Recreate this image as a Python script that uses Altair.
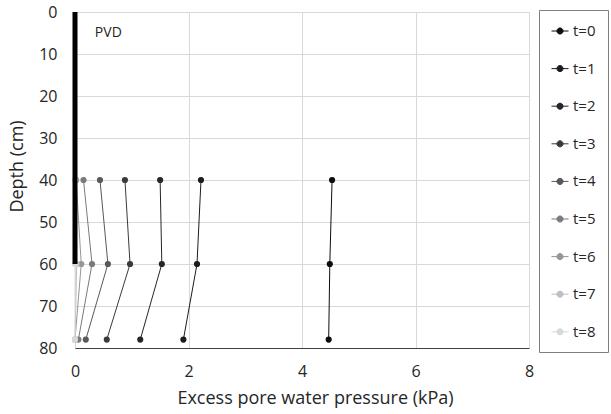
import altair as alt
import pandas as pd

series = ["t=0", "t=1", "t=2", "t=3", "t=4", "t=5", "t=6", "t=7", "t=8"]
depths = [40, 60, 78]
t0 = [4.53, 4.49, 4.47]
t1 = [2.22, 2.15, 1.91]
t2 = [1.50, 1.53, 1.15]
t3 = [0.88, 0.97, 0.56]
t4 = [0.44, 0.58, 0.19]
t5 = [0.15, 0.30, 0.06]
t6 = [0.02, 0.11, 0.00]
t7 = [0.00, 0.03, 0.00]
t8 = [0.00, 0.00, 0.00]
values = [t0, t1, t2, t3, t4, t5, t6, t7, t8]
colors = ["#0d0d0d", "#1c1c1c", "#262626", "#3a3a3a", "#595959",
          "#7a7a7a", "#969696", "#bfbfbf", "#d9d9d9"]

x_ticks = [0, 2, 4, 6, 8]
y_ticks = [0, 10, 20, 30, 40, 50, 60, 70, 80]

pvd_x = [0]
pvd_top = [0]
pvd_bottom = [60]

rows = []
for name, vals in zip(series, values):
    for d, v in zip(depths, vals):
        rows.append({"series": name, "depth": d, "u": v})
df = pd.DataFrame(rows)
pvd = pd.DataFrame({"x": pvd_x, "top": pvd_top, "bottom": pvd_bottom})

FONT = "Open Sans"
TXT = "#262626"
xscale = alt.Scale(domain=[0, 8], nice=False, zero=False)
yscale = alt.Scale(domain=[0, 80], reverse=True, nice=False, zero=False)
cscale = alt.Scale(domain=series, range=colors)

legend = alt.Legend(
    title=None,
    orient="none",
    legendX=464,
    legendY=-2,
    symbolType="M-1,0H1M-0.36,0A0.36,0.36,0,1,0,0.36,0A0.36,0.36,0,1,0,-0.36,0Z",
    symbolSize=289,
    symbolStrokeWidth=1,
    symbolOpacity=1,
    labelFont=FONT,
    labelFontSize=15,
    labelColor=TXT,
    labelOffset=4,
    rowPadding=20.6,
    padding=12,
    strokeColor="#7f7f7f",
    fillColor="white",
)

xaxis = alt.Axis(values=x_ticks, format="d", title="Excess pore water pressure (kPa)",
                 grid=True, ticks=False, labelPadding=15, labelFontSize=16,
                 labelFlush=False, titleFontSize=18, titlePadding=10, titleX=240,
                 labelFont=FONT, titleFont=FONT,
                 labelColor=TXT, titleColor=TXT, titleFontWeight="normal",
                 domainColor="#404040", gridColor="#d9d9d9")
yaxis = alt.Axis(values=y_ticks, title="Depth (cm)", grid=True, ticks=False,
                 labelPadding=18, labelFontSize=16, labelFlush=False,
                 titleFontSize=18, titlePadding=12, titleY=154,
                 labelFont=FONT, titleFont=FONT, labelColor=TXT,
                 titleColor=TXT, titleFontWeight="normal",
                 domain=False, gridColor="#d9d9d9")

base = alt.Chart(df)

lines = base.mark_line(strokeWidth=1).encode(
    x=alt.X("u:Q", scale=xscale, axis=xaxis),
    y=alt.Y("depth:Q", scale=yscale, axis=yaxis),
    stroke=alt.Stroke("series:N", scale=cscale, legend=legend),
    order=alt.Order("depth:Q"),
)

points = base.mark_point(filled=True, size=38, opacity=1, strokeWidth=0).encode(
    x=alt.X("u:Q", scale=xscale),
    y=alt.Y("depth:Q", scale=yscale),
    fill=alt.Fill("series:N", scale=cscale, legend=legend),
    stroke=alt.Stroke("series:N", scale=cscale, legend=legend),
)

pvd_rule = alt.Chart(pvd).mark_rule(color="black", strokeWidth=5).encode(
    x=alt.X("x:Q", scale=xscale),
    y=alt.Y("top:Q", scale=yscale),
    y2="bottom:Q",
)

label = alt.Chart(pvd).mark_text(text="PVD", align="left", baseline="middle",
                                 font=FONT, fontSize=14, color=TXT).encode(
    x=alt.datum(0.35),
    y=alt.datum(5),
)

chart = alt.layer(lines, points, pvd_rule, label).properties(
    width=454, height=336,
    autosize=alt.AutoSizeParams(type="none"),
    padding={"left": 75, "top": 12, "right": 82, "bottom": 66},
).configure_view(stroke="#404040", strokeWidth=1).configure(background="white")

chart.save("out.html", embed_options={"renderer": "svg", "actions": False})
